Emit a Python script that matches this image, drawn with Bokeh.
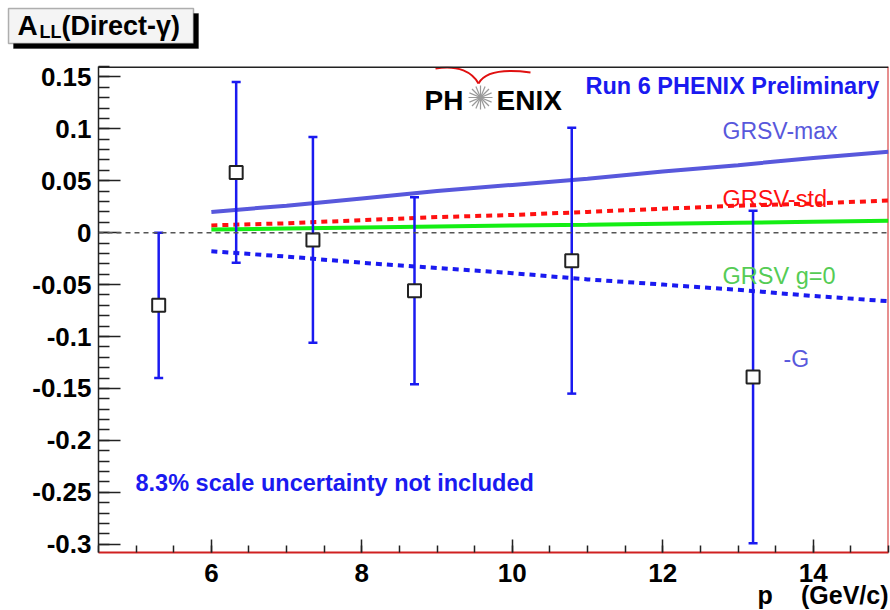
import numpy as np
from bokeh.plotting import figure
from bokeh.layouts import column
from bokeh.models import (Range1d, FixedTicker, Label, Span, BoxAnnotation,
                          ColumnDataSource)
from bokeh.embed import file_html
from bokeh.resources import INLINE

# ---------------- data ----------------
pt = [5.3, 6.33, 7.35, 8.7, 10.79, 13.2]
all_val = [-0.070, 0.058, -0.007, -0.056, -0.027, -0.139]
all_err = [0.070, 0.087, 0.099, 0.090, 0.128, 0.160]

theory_pt = [6, 7, 8, 9, 10, 11, 12, 13, 14, 15]
grsv_max = [0.020, 0.026, 0.033, 0.040, 0.046, 0.052, 0.059, 0.065, 0.072, 0.078]
grsv_std = [0.007, 0.009, 0.012, 0.015, 0.017, 0.020, 0.023, 0.026, 0.028, 0.031]
grsv_g0 = [0.003, 0.004, 0.005, 0.006, 0.007, 0.0075, 0.0085, 0.0095, 0.0105, 0.0115]
minus_g = [-0.018, -0.023, -0.029, -0.034, -0.039, -0.045, -0.050, -0.055, -0.061, -0.066]

x_ticks = [6, 8, 10, 12, 14]
x_tick_labels = ["6", "8", "10", "12", "14"]
y_ticks = [-0.3, -0.25, -0.2, -0.15, -0.1, -0.05, 0.0, 0.05, 0.1, 0.15]
y_tick_labels = ["-0.3", "-0.25", "-0.2", "-0.15", "-0.1", "-0.05", "0", "0.05", "0.1", "0.15"]

# ---------------- geometry ----------------
W, H = 890, 610
FL, FR, FT, FB = 98, 888, 66, 552   # frame box of the reference (canvas pixels)
X0, X1 = 4.5, 15.0
Y0, Y1 = -0.308, 0.160
TITLE_H = 54                         # height of the title strip
LAB_TOP = 580                        # top of the x-axis title strip


def dx(cx):
    return X0 + (cx - FL) * (X1 - X0) / (FR - FL)


def dy(cy):
    return Y0 + (FB - cy) * (Y1 - Y0) / (FB - FT)


FONT = "Liberation Sans"
BLUE = "#1a1af0"
SLATE = "#5858dc"
RED = "#d02020"
SHIFT = 8  # baseline correction for Label placement


def strip(height, y_top):
    f = figure(width=W, height=height, output_backend="svg", toolbar_location=None,
               x_range=Range1d(0, W), y_range=Range1d(y_top + height, y_top),
               min_border_left=0, min_border_right=0, min_border_top=0, min_border_bottom=0)
    f.axis.visible = False
    f.grid.visible = False
    f.outline_line_color = None
    try:
        f.frame_align = False
    except Exception:
        pass
    return f


def slab(f, text, cx, cy, size, align="left"):
    f.add_layout(Label(x=cx, y=cy - SHIFT, text=text, text_font=FONT,
                       text_font_size=f"{size}px", text_font_style="bold",
                       text_color="black", text_align=align, text_baseline="alphabetic"))


# ---------------- title strip (canvas pixel coordinates) ----------------
t = strip(TITLE_H, 0)
t.background_fill_color = "white"
t.border_fill_color = "white"
t.add_layout(BoxAnnotation(left=13, right=198, top=13, bottom=48,
                           fill_color="black", fill_alpha=1, line_color="black"))
t.add_layout(BoxAnnotation(left=8, right=193, top=8, bottom=43,
                           fill_color="#f4f4f4", fill_alpha=1, line_color="black",
                           line_width=1.5))
slab(t, "A", 17, 33, 28)
slab(t, "LL", 39, 39, 18)
slab(t, "(Direct-γ)", 61, 33, 27)

# ---------------- main plot ----------------
p = figure(width=W, height=H - TITLE_H, output_backend="svg", toolbar_location=None,
           x_range=Range1d(X0, X1), y_range=Range1d(Y0, Y1),
           min_border_left=FL, min_border_right=W - FR,
           min_border_top=FT - TITLE_H, min_border_bottom=H - FB)
try:
    p.frame_align = False
except Exception:
    pass
p.background_fill_color = "white"
p.border_fill_color = "white"
p.grid.visible = False
p.outline_line_color = None

p.xaxis.ticker = FixedTicker(ticks=x_ticks,
                             minor_ticks=list(np.arange(4.5, 15.01, 0.5)))
p.xaxis.major_label_overrides = {tk: l for tk, l in zip(x_ticks, x_tick_labels)}
p.yaxis.ticker = FixedTicker(ticks=y_ticks,
                             minor_ticks=list(np.round(np.arange(-0.30, 0.1601, 0.01), 3)))
p.yaxis.major_label_overrides = {tk: l for tk, l in zip(y_ticks, y_tick_labels)}
for ax in (p.xaxis, p.yaxis):
    ax.major_label_text_font = FONT
    ax.major_label_text_font_style = "bold"
    ax.major_label_text_font_size = "26px"
    ax.major_label_text_color = "black"
    ax.major_tick_out = 0
    ax.minor_tick_out = 0
    ax.major_tick_line_color = "#222222"
    ax.minor_tick_line_color = "#222222"
    ax.major_tick_line_width = 1.5
    ax.minor_tick_line_width = 1.5
p.yaxis.major_tick_in = 22
p.yaxis.minor_tick_in = 11
p.yaxis.axis_line_color = "#222222"
p.yaxis.axis_line_width = 1.5
p.yaxis.major_label_standoff = 7
p.xaxis.major_tick_in = 13
p.xaxis.minor_tick_in = 7
p.xaxis.axis_line_color = RED
p.xaxis.axis_line_width = 2
p.xaxis.major_label_standoff = 11

# frame edges
p.add_layout(Span(location=Y1, dimension="width", line_color="#222222", line_width=3))
p.segment(x0=[X1], y0=[Y0], x1=[X1], y1=[Y1], line_color=RED, line_width=2)
p.add_layout(Span(location=0, dimension="width", line_color="#555555",
                  line_width=1.5, line_dash="5 4"))

# theory curves
p.line(theory_pt, grsv_max, line_color=SLATE, line_width=4)
p.line(theory_pt, grsv_std, line_color="#ff1010", line_width=4, line_dash="6 5")
p.line(theory_pt, grsv_g0, line_color="#14ee14", line_width=4)
p.line(theory_pt, minus_g, line_color=BLUE, line_width=4, line_dash="6 5")

# data with error bars
src = ColumnDataSource(dict(
    x=pt, y=all_val,
    lo=[v - e for v, e in zip(all_val, all_err)],
    hi=[v + e for v, e in zip(all_val, all_err)]))
p.segment(x0="x", y0="lo", x1="x", y1="hi", source=src, line_color=BLUE, line_width=2.5)
p.scatter(x="x", y="hi", source=src, marker="dash", size=9, line_color=BLUE, line_width=2.5)
p.scatter(x="x", y="lo", source=src, marker="dash", size=9, line_color=BLUE, line_width=2.5)
p.scatter(x="x", y="y", source=src, marker="square", size=13,
          fill_color="white", line_color="#222222", line_width=2)


def lab(text, cx, cy, size, color="black", style="normal", align="left"):
    p.add_layout(Label(x=dx(cx), y=dy(cy - SHIFT), text=text, text_font=FONT,
                       text_font_size=f"{size}px", text_font_style=style,
                       text_color=color, text_align=align, text_baseline="alphabetic"))


lab("Run 6 PHENIX Preliminary", 585, 93, 23.5, BLUE, "bold")
lab("GRSV-max", 722, 138, 23, SLATE)
lab("GRSV-std", 722, 206, 23.5, "#ff1010")
lab("GRSV g=0", 722, 283, 23.5, "#55cc55")
lab("-G", 783, 366, 23, SLATE)
lab("8.3% scale uncertainty not included", 135, 490, 23.5, BLUE, "bold")

# PHENIX logo
lab("PH", 424, 108, 28, "black", "bold")
lab("ENIX", 496, 108, 28, "black", "bold")
ang = np.linspace(0, 2 * np.pi, 16, endpoint=False)
p.ray(x=[dx(480)] * 16, y=[dy(97)] * 16, length=12, length_units="screen",
      angle=list(ang), line_color="#999999", line_width=1.2)
p.bezier(x0=[dx(435), dx(478)], y0=[dy(68), dy(83)],
         x1=[dx(478), dx(530)], y1=[dy(83), dy(72)],
         cx0=[dx(458), dx(484)], cy0=[dy(64), dy(72)],
         cx1=[dx(472), dx(500)], cy1=[dy(72), dy(68)],
         line_color="#e01010", line_width=2)

# ---------------- x-axis title strip, pulled up over the bottom border ----------------
b = strip(H - LAB_TOP, LAB_TOP)
b.background_fill_alpha = 0
b.border_fill_alpha = 0
b.margin = (-(H - LAB_TOP), 0, 0, 0)
slab(b, "p", 757, 602, 25)
slab(b, "(GeV/c)", 888, 602, 25, align="right")

layout = column(t, p, b, spacing=0)
open("out.html", "w").write(file_html(layout, INLINE))
